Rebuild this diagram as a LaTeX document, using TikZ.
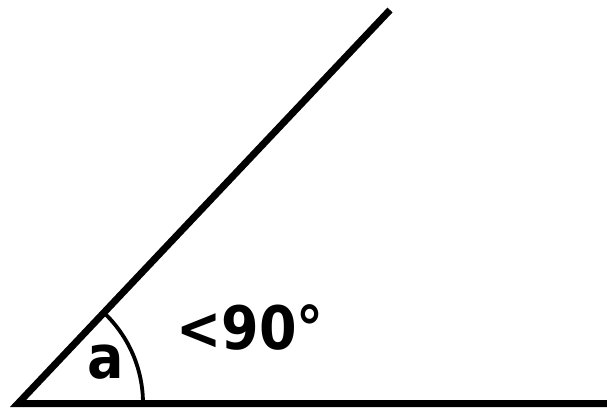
\documentclass[tikz,border=0pt]{standalone}
\usepackage{fontspec}
\setmainfont{DejaVu Sans Condensed}
\begin{document}
\begin{tikzpicture}[x=1pt,y=-1pt,
  ray/.style={line width=7pt,line join=miter},
  arcline/.style={line width=3.8pt},
  lbl/.style={font=\fontsize{60}{60}\selectfont\bfseries,inner sep=0pt}]
\useasboundingbox (0,0) rectangle (607,408);
\coordinate (v) at (18,403.5);
\coordinate (r) at (607,403.5);
\coordinate (t) at (390,10);
\draw[ray] (r) -- (v) -- (t);
\draw[arcline] (143,403.5) arc[start angle=0,end angle=46.6,radius=125pt];
\node[lbl] (a) at (106,362) {a};
\node[lbl] (ang) at (250,327) {<90°};
\end{tikzpicture}
\end{document}
